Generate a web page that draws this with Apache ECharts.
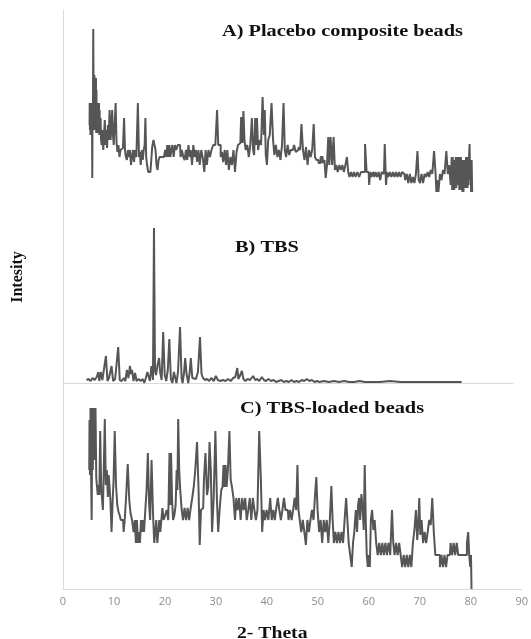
<!DOCTYPE html>
<html>
<head>
<meta charset="utf-8">
<script src="https://cdn.jsdelivr.net/npm/echarts@6/dist/echarts.min.js"></script>
<style>
  html, body { margin: 0; padding: 0; background: #fff; }
  #chart { width: 531px; height: 639px; }
</style>
</head>
<body>
<div id="chart"></div>
<script>
// [2-theta, intensity]
const placebo = [[5.2,75],[5.25,97],[5.3,70],[5.35,97],[5.4,65],[5.45,97],[5.5,70],[5.55,97],[5.6,65],[5.65,97],[5.7,75],[5.76,22],[5.82,97],[5.88,70],[5.96,171],[6.02,97],[6.07,122],[6.12,70],[6.17,125],[6.22,97],[6.27,112],[6.32,70],[6.37,112],[6.42,97],[6.47,122],[6.52,67],[6.57,110],[6.62,70],[6.67,97],[6.72,67],[6.77,97],[6.82,70],[6.87,97],[6.92,67],[6.97,97],[7.02,67],[7.07,97],[7.12,65],[7.2,90],[7.3,65],[7.4,82],[7.5,60],[7.65,55],[7.8,70],[7.95,50],[8.1,65],[8.25,80],[8.4,55],[8.55,70],[8.7,52],[8.85,75],[9.0,60],[9.23,90],[9.4,60],[9.55,75],[9.7,90],[9.85,65],[10.0,55],[10.2,75],[10.4,97],[10.55,57],[10.75,48],[10.95,55],[11.15,43],[11.35,50],[11.6,52],[11.85,50],[12.05,82],[12.2,50],[12.4,43],[12.6,40],[12.8,50],[13.0,43],[13.2,50],[13.4,35],[13.6,43],[13.8,50],[14.0,38],[14.2,50],[14.5,43],[14.8,97],[14.95,43],[15.1,48],[15.3,35],[15.5,50],[15.7,40],[15.9,50],[16.05,55],[16.2,82],[16.35,43],[16.55,35],[16.8,28],[17.1,28],[17.3,35],[17.6,53],[17.8,60],[18.0,55],[18.2,50],[18.4,35],[18.6,30],[18.8,40],[19.0,43],[19.3,43],[19.6,43],[19.9,43],[20.1,50],[20.3,43],[20.5,55],[20.7,43],[20.9,55],[21.1,43],[21.3,50],[21.5,55],[21.8,43],[22.0,55],[22.3,50],[22.6,55],[22.9,55],[23.1,43],[23.4,50],[23.7,43],[23.9,40],[24.2,50],[24.4,40],[24.7,55],[24.9,43],[25.1,50],[25.4,35],[25.6,55],[25.9,43],[26.1,50],[26.4,38],[26.6,50],[26.9,35],[27.2,50],[27.5,42],[27.8,28],[28.0,50],[28.3,35],[28.6,50],[28.9,43],[29.2,50],[29.6,55],[30.0,55],[30.3,90],[30.45,55],[30.7,55],[31.0,43],[31.2,48],[31.5,38],[31.8,50],[32.0,35],[32.3,50],[32.6,30],[32.9,43],[33.2,35],[33.5,50],[33.8,28],[34.1,48],[34.4,55],[34.7,57],[35.0,83],[35.2,57],[35.4,89],[35.6,60],[35.9,50],[36.2,55],[36.5,43],[36.8,55],[37.1,82],[37.3,50],[37.5,45],[37.7,82],[37.85,55],[38.05,82],[38.3,50],[38.6,60],[38.9,55],[39.2,103],[39.4,65],[39.55,90],[39.8,45],[40.0,35],[40.3,60],[40.6,65],[41.0,97],[41.2,60],[41.5,45],[41.8,55],[42.1,43],[42.4,50],[42.7,40],[43.0,55],[43.3,97],[43.5,50],[43.8,43],[44.1,55],[44.4,45],[44.7,50],[45.0,50],[45.4,55],[45.7,48],[46.0,50],[46.3,53],[46.5,50],[46.8,76],[47.1,50],[47.4,40],[47.7,53],[48.0,35],[48.3,50],[48.6,43],[48.9,50],[49.2,76],[49.4,43],[49.8,40],[50.2,37],[50.6,43],[51.0,37],[51.3,40],[51.5,22],[51.8,35],[52.0,63],[52.2,35],[52.5,63],[52.8,35],[53.1,63],[53.3,30],[53.6,35],[53.9,28],[54.2,35],[54.5,30],[54.8,35],[55.1,28],[55.4,35],[55.7,43],[55.9,28],[56.2,23],[56.5,28],[56.8,23],[57.1,28],[57.4,23],[57.8,28],[58.1,23],[58.5,28],[58.9,28],[59.3,56],[59.5,28],[59.8,28],[60.0,15],[60.2,28],[60.5,23],[60.8,28],[61.0,23],[61.3,28],[61.6,23],[61.9,28],[62.2,20],[62.5,28],[62.8,26],[63.1,56],[63.3,15],[63.5,28],[63.8,23],[64.1,28],[64.4,23],[64.7,28],[65.0,23],[65.3,28],[65.6,23],[65.9,28],[66.2,23],[66.5,28],[66.8,26],[67.1,20],[67.4,26],[67.7,17],[68.0,26],[68.3,17],[68.6,23],[68.9,17],[69.2,26],[69.5,49],[69.7,20],[70.0,17],[70.3,26],[70.6,17],[70.9,26],[71.2,23],[71.5,28],[71.8,23],[72.1,30],[72.4,26],[72.8,49],[73.0,26],[73.1,8],[73.3,20],[73.6,8],[73.9,26],[74.2,20],[74.5,30],[74.8,26],[75.2,49],[75.4,26],[75.7,35],[76.0,15],[76.1,43],[76.2,10],[76.3,43],[76.4,15],[76.5,35],[76.6,10],[76.7,40],[76.8,15],[76.9,43],[77.0,12],[77.1,40],[77.2,15],[77.3,43],[77.4,25],[77.5,43],[77.6,10],[77.7,40],[77.8,10],[77.9,43],[78.0,15],[78.1,40],[78.2,8],[78.3,35],[78.4,8],[78.5,40],[78.6,12],[78.7,35],[78.8,12],[78.9,43],[79.0,15],[79.1,43],[79.2,12],[79.3,40],[79.4,15],[79.5,45],[79.6,56],[79.7,20],[79.8,40],[79.9,8],[80.0,40],[80.1,8]];

const tbs = [[4.6,3],[5.0,4],[5.4,2],[5.8,5],[6.2,3],[6.6,6],[6.9,11],[7.1,2],[7.4,11],[7.7,3],[8.0,4],[8.4,27],[8.7,2],[9.0,5],[9.3,3],[9.5,17],[9.8,2],[10.2,4],[10.5,5],[10.8,36],[11.1,3],[11.5,2],[11.9,5],[12.2,2],[12.5,13],[12.8,5],[13.1,17],[13.3,9],[13.5,13],[13.8,2],[14.1,10],[14.4,2],[14.8,4],[15.2,2],[15.6,4],[15.9,0],[16.2,5],[16.5,11],[16.7,11],[17.0,2],[17.3,17],[17.6,3],[17.8,155],[18.0,12],[18.2,8],[18.5,18],[18.8,25],[19.0,11],[19.3,3],[19.6,51],[19.9,8],[20.2,2],[20.5,13],[20.8,44],[21.1,4],[21.4,0],[21.7,11],[21.9,12],[22.2,0],[22.5,11],[22.9,56],[23.2,5],[23.4,0],[23.7,11],[23.9,25],[24.2,8],[24.5,0],[24.8,11],[25.0,25],[25.3,5],[25.6,3],[26.0,4],[26.4,11],[26.8,46],[27.1,9],[27.4,5],[27.8,3],[28.2,4],[28.6,2],[29.0,5],[29.5,2],[29.9,7],[30.3,3],[30.8,2],[31.3,3],[31.8,2],[32.3,4],[32.8,2],[33.3,5],[33.7,6],[34.1,15],[34.3,4],[34.6,7],[35.0,12],[35.3,4],[35.7,2],[36.1,4],[36.6,3],[37.2,7],[37.6,3],[38.0,4],[38.4,2],[38.9,6],[39.3,3],[39.7,2],[40.2,4],[40.7,2],[41.2,3],[41.7,1],[42.2,2],[42.7,3],[43.2,1],[43.7,2],[44.2,1],[44.7,3],[45.2,1],[45.7,2],[46.2,1],[46.7,3],[47.2,2],[47.7,4],[48.2,2],[48.7,3],[49.2,1],[49.7,2],[50.2,1],[51,2],[52,1],[53,2],[54,1],[55,2],[56,1],[57,1],[58,2],[59,1],[60,1],[62,1],[64,2],[66,1],[68,1],[70,1],[72,1],[74,1],[76,1],[78,1]];

const loaded = [[5.15,119],[5.25,169],[5.35,114],[5.45,181],[5.55,119],[5.7,69],[5.8,181],[5.9,119],[6.0,181],[6.1,139],[6.2,181],[6.3,129],[6.45,181],[6.6,111],[6.75,102],[6.9,94],[7.05,104],[7.2,94],[7.4,158],[7.6,99],[7.75,89],[7.9,79],[8.1,119],[8.3,170],[8.5,104],[8.7,119],[8.9,92],[9.05,114],[9.2,112],[9.4,89],[9.65,57],[9.85,89],[10.0,109],[10.3,158],[10.5,104],[10.8,84],[11.0,77],[11.2,74],[11.5,69],[11.8,69],[12.0,57],[12.2,69],[12.5,89],[12.9,125],[13.1,89],[13.4,76],[13.7,69],[14.0,57],[14.2,69],[14.4,46],[14.6,69],[14.8,46],[15.0,57],[15.2,46],[15.4,69],[15.6,57],[15.8,69],[16.0,57],[16.3,79],[16.5,99],[16.8,136],[17.0,84],[17.2,69],[17.55,129],[17.8,74],[18.0,46],[18.2,57],[18.4,69],[18.6,46],[18.8,57],[19.0,69],[19.2,57],[19.4,69],[19.6,81],[19.9,69],[20.2,74],[20.5,79],[20.8,69],[21.0,136],[21.1,84],[21.3,136],[21.5,89],[21.7,69],[22.0,74],[22.2,84],[22.4,119],[22.5,99],[22.7,170],[22.9,119],[23.1,99],[23.4,81],[23.7,69],[24.0,81],[24.3,69],[24.6,81],[24.9,69],[25.2,81],[25.5,91],[25.8,102],[26.1,119],[26.5,147],[26.7,99],[26.95,44],[27.2,79],[27.5,81],[27.8,109],[28.1,136],[28.4,94],[28.6,102],[28.9,147],[29.1,119],[29.4,57],[29.7,89],[30.1,158],[30.3,89],[30.6,57],[30.9,81],[31.2,99],[31.4,102],[31.6,124],[31.8,102],[32.0,124],[32.2,102],[32.5,119],[32.8,158],[33.0,109],[33.3,102],[33.6,91],[33.9,69],[34.1,91],[34.4,79],[34.7,91],[35.0,69],[35.3,91],[35.6,79],[35.9,91],[36.2,69],[36.5,79],[36.8,91],[37.1,69],[37.4,91],[37.7,79],[38.0,69],[38.3,79],[38.7,158],[38.95,109],[39.2,57],[39.5,79],[39.8,69],[40.1,79],[40.5,69],[40.8,91],[41.1,69],[41.4,79],[41.7,69],[42.0,81],[42.3,91],[42.6,79],[42.9,69],[43.2,79],[43.5,91],[43.8,79],[44.1,79],[44.4,69],[44.7,79],[45.0,69],[45.3,79],[45.6,91],[45.9,79],[46.1,124],[46.3,79],[46.6,69],[46.9,57],[47.2,69],[47.5,57],[47.8,44],[48.1,69],[48.4,57],[48.7,69],[49.0,79],[49.3,69],[49.6,94],[49.8,112],[50.1,79],[50.4,57],[50.7,69],[51.0,46],[51.3,69],[51.6,57],[51.9,69],[52.2,46],[52.5,69],[52.8,103],[53.0,69],[53.3,46],[53.6,57],[53.9,46],[54.2,57],[54.5,46],[54.8,57],[55.1,46],[55.4,69],[55.7,91],[55.9,69],[56.2,46],[56.5,34],[56.8,22],[57.0,46],[57.3,57],[57.6,79],[57.8,57],[58.0,84],[58.2,91],[58.4,69],[58.7,95],[58.9,79],[59.1,59],[59.3,124],[59.5,69],[59.7,34],[59.9,22],[60.1,34],[60.3,22],[60.5,69],[60.8,79],[61.0,59],[61.3,69],[61.6,46],[61.9,34],[62.2,46],[62.5,34],[62.8,46],[63.1,34],[63.4,46],[63.7,34],[64.0,46],[64.4,34],[64.7,79],[64.9,46],[65.2,34],[65.5,46],[65.8,34],[66.1,46],[66.4,34],[66.7,22],[67.0,34],[67.3,22],[67.6,34],[67.9,22],[68.2,34],[68.5,22],[68.8,46],[69.1,59],[69.4,79],[69.6,49],[69.8,64],[70.0,91],[70.2,54],[70.5,69],[70.8,46],[71.1,57],[71.4,46],[71.7,57],[72.0,69],[72.3,64],[72.6,91],[72.9,57],[73.2,34],[73.5,34],[73.8,34],[74.1,22],[74.4,34],[74.7,22],[75.0,34],[75.3,22],[75.6,34],[75.9,34],[76.2,46],[76.5,34],[76.8,46],[77.1,34],[77.4,46],[77.7,34],[78.0,34],[78.4,34],[78.8,34],[79.1,34],[79.4,46],[79.6,57],[79.8,34],[80.0,22],[80.1,34],[80.2,0]];

const xTicks = [0, 10, 20, 30, 40, 50, 60, 70, 80, 90];

const chart = echarts.init(document.getElementById('chart'));
const axisGrey = '#d9d9d9';
const lineGrey = '#565656';
const serif = '"Liberation Serif", "Times New Roman", serif';

const hiddenX = (idx, max, showLine) => ({
  type: 'value', gridIndex: idx, min: 0, max: max,
  axisLine: { show: showLine, lineStyle: { color: axisGrey, width: 1 } },
  axisTick: { show: false }, axisLabel: { show: false }, splitLine: { show: false }
});
const leftY = (idx, max) => ({
  type: 'value', gridIndex: idx, min: 0, max: max,
  axisLine: { show: true, lineStyle: { color: axisGrey, width: 1 } },
  axisTick: { show: false }, axisLabel: { show: false }, splitLine: { show: false }
});
const trace = (idx, data, step) => ({
  type: 'line', xAxisIndex: idx, yAxisIndex: idx, data: data,
  step: step, showSymbol: false, silent: true,
  lineStyle: { color: lineGrey, width: 2 }
});

chart.setOption({
  animation: false,
  backgroundColor: '#fff',
  grid: [
    { left: 63, top: 10, width: 460, height: 190 },
    { left: 63, top: 200, width: 449.8, height: 183 },
    { left: 63, top: 383, width: 460, height: 206 }
  ],
  xAxis: [
    hiddenX(0, 90, false),
    hiddenX(1, 88, true),
    {
      type: 'value', gridIndex: 2, min: xTicks[0], max: xTicks[xTicks.length - 1], interval: 10,
      axisLine: { show: true, lineStyle: { color: axisGrey, width: 1 } },
      axisTick: { show: false }, splitLine: { show: false },
      axisLabel: { color: '#8c8c8c', fontSize: 11, margin: 7, fontFamily: '"Open Sans", sans-serif' }
    }
  ],
  yAxis: [leftY(0, 190), leftY(1, 183), leftY(2, 206)],
  series: [
    trace(0, placebo, 'middle'),
    trace(1, tbs, false),
    trace(2, loaded, 'middle')
  ],
  graphic: [
    { type: 'text', x: 222, y: 32, scaleX: 1.27,
      style: { text: 'A) Placebo composite beads', font: 'bold 16px ' + serif, fill: '#111', textAlign: 'left', textVerticalAlign: 'middle' } },
    { type: 'text', x: 235, y: 248, scaleX: 1.27,
      style: { text: 'B) TBS', font: 'bold 16px ' + serif, fill: '#111', textAlign: 'left', textVerticalAlign: 'middle' } },
    { type: 'text', x: 240, y: 409, scaleX: 1.27,
      style: { text: 'C) TBS-loaded beads', font: 'bold 16px ' + serif, fill: '#111', textAlign: 'left', textVerticalAlign: 'middle' } },
    { type: 'text', x: 18, y: 277, rotation: Math.PI / 2,
      style: { text: 'Intesity', font: 'bold 16px ' + serif, fill: '#111', textAlign: 'center', textVerticalAlign: 'middle' } },
    { type: 'text', x: 237, y: 634, scaleX: 1.23,
      style: { text: '2- Theta', font: 'bold 16px ' + serif, fill: '#111', textAlign: 'left', textVerticalAlign: 'middle' } }
  ]
});
</script>
</body>
</html>
